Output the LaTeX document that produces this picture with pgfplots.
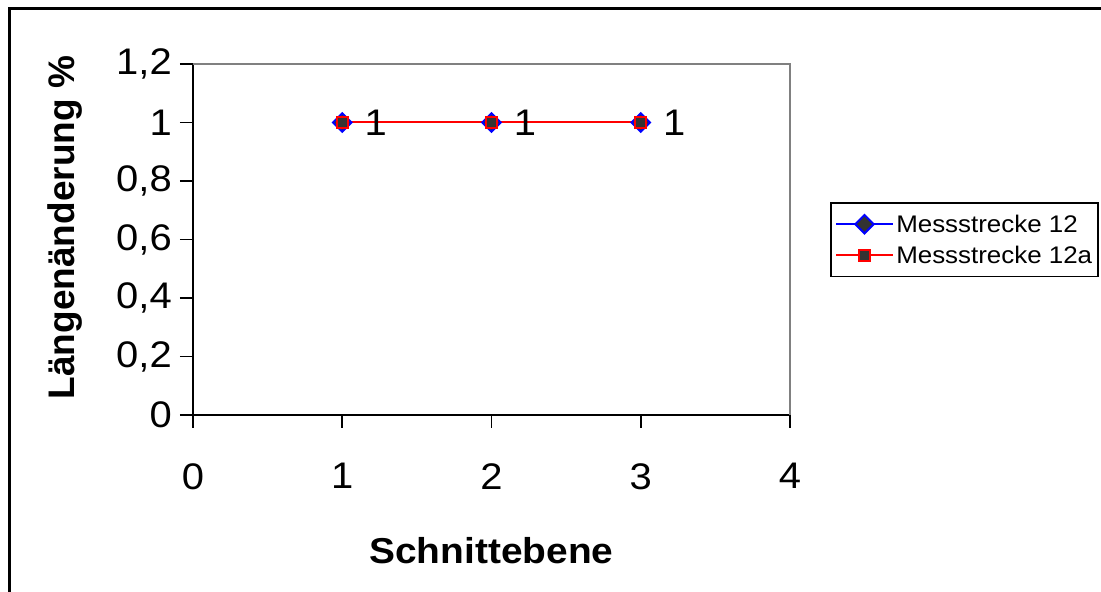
\documentclass[border=0pt]{standalone}
\usepackage{fontspec}
\setmainfont{Liberation Sans}[FakeStretch=1.08]
\newfontfamily\plainfont{Liberation Sans}
\usepackage{pgfplots}
\pgfplotsset{compat=1.18}
\definecolor{markfill}{HTML}{333333}
\begin{document}
\begin{tikzpicture}
\path[use as bounding box] (0pt,0pt) rectangle (1101pt,592pt);
\begin{scope}
\clip (0pt,0pt) rectangle (1101pt,592pt);
\draw[line width=3pt] (9.5pt,-20pt) -- (9.5pt,583.5pt) -- (1130pt,583.5pt);
\end{scope}
\begin{axis}[
  at={(193pt,177pt)}, anchor=south west,
  scale only axis, width=597pt, height=351pt,
  xmin=0, xmax=4, ymin=0, ymax=1.2,
  xtick={0,1,2,3,4}, ytick={0,0.2,0.4,0.6,0.8,1,1.2},
  axis x line*=bottom, axis y line*=left,
  axis line style={line width=1.6pt, black},
  tick style={line width=1.6pt, black},
  tick align=outside, major tick length=13pt,
  /pgf/number format/use comma,
  /pgf/number format/assume math mode=true,
  /pgf/number format/1000 sep={},
  tick label style={font=\fontsize{37}{40}\selectfont, inner sep=0pt},
  xticklabel style={yshift=-35pt},
  yticklabel style={xshift=-8pt},
  ylabel={\plainfont\bfseries Längenänderung \%},
  xlabel={\bfseries Schnittebene},
  label style={font=\fontsize{37}{42}\selectfont},
  ylabel style={at={(rel axis cs:-0.2144,0.534)}, anchor=center, rotate=0},
  xlabel style={at={(rel axis cs:0.5,-0.385)}, anchor=center, font=\fontsize{36}{42}\selectfont},
  legend style={at={(rel axis cs:1.067,0.6068)}, anchor=north west,
    draw=black, line width=1.5pt, fill=white,
    font=\fontsize{24}{28}\selectfont, inner xsep=4pt, inner ysep=10pt,
    row sep=8pt},
  legend cell align=left,
  legend image code/.code={
    \draw[mark repeat=2,mark phase=2, line width=2.5pt] plot coordinates {(0pt,0pt) (28.5pt,0pt) (57pt,0pt)};
  },
  clip=false,
]
\draw[gray, line width=1.4pt] (rel axis cs:0,1) -- (rel axis cs:1,1) -- (rel axis cs:1,0);
\addplot[blue, line width=2pt, mark=square*, mark size=6.5pt,
  mark options={rotate=45, fill=markfill, draw=blue, line width=2pt}]
  coordinates {(1,1) (2,1) (3,1)};
\addlegendentry{Messstrecke 12}
\addplot[red, line width=2pt, mark=square*, mark size=5.5pt,
  mark options={fill=markfill, draw=red, line width=2pt},
  nodes near coords, point meta=explicit,
  nodes near coords align=horizontal,
  every node near coord/.append style={font=\fontsize{37}{40}\selectfont, black, xshift=18pt}]
  coordinates {(1,1) [1] (2,1) [1] (3,1) [1]};
\addlegendentry{Messstrecke 12a}
\end{axis}
\end{tikzpicture}
\end{document}
